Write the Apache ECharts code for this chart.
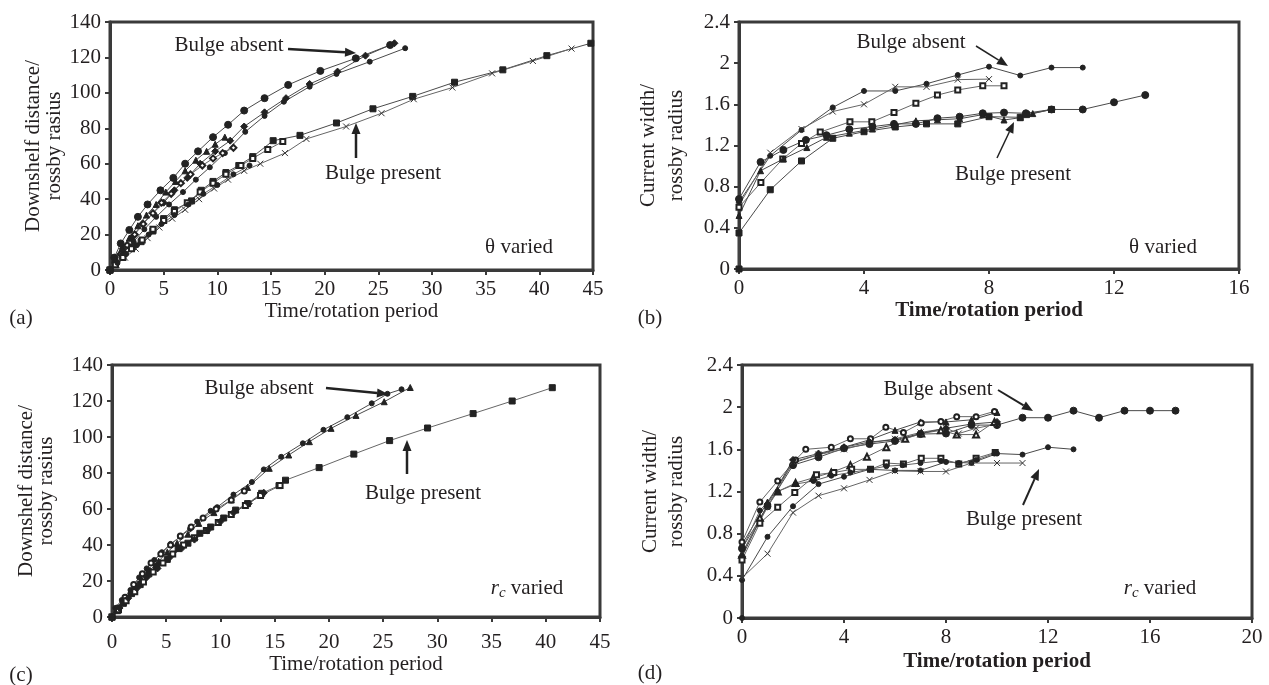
<!DOCTYPE html>
<html><head><meta charset="utf-8">
<script src="https://cdn.jsdelivr.net/npm/echarts@6/dist/echarts.min.js"></script>
<style>html,body{margin:0;padding:0;background:#fff}#c{width:1269px;height:685px}</style>
</head><body><div id="c"></div>
<script>
// ---------- Axis ticks ----------
const distTicks = [0, 20, 40, 60, 80, 100, 120, 140];
const widthTicks = [0, 0.4, 0.8, 1.2, 1.6, 2, 2.4];
const timeTicksAC = [0, 5, 10, 15, 20, 25, 30, 35, 40, 45];
const timeTicksB = [0, 4, 8, 12, 16];
const timeTicksD = [0, 4, 8, 12, 16, 20];

// ---------- Panel (a): theta varied, downshelf distance ----------
const aAbs1 = [[0,0],[0.4,7],[1,15],[1.8,22.6],[2.6,30],[3.5,37],[4.7,45],[5.9,52],[7,60],[8.2,67],[9.6,75],[11,82],[12.5,90],[14.4,97],[16.6,104.5],[19.6,112.4],[22.9,119.5],[26.1,127]];
const aAbs2 = [[0,0],[0.5,5],[1.2,12],[2,18],[3,26],[4,32],[5,38],[6,45],[7.2,52],[8.4,60],[9.8,67],[11.2,73],[12.5,81],[14.4,89],[16.4,97],[18.6,105],[21.2,112],[23.8,121],[26.5,128]];
const aAbs3 = [[0,0],[0.6,4],[1.3,10],[2.2,16],[3.2,23],[4.3,30],[5.5,37],[6.8,44],[8,51],[9.3,58],[10.7,66],[12.6,78],[14.4,87],[16.2,95],[18.6,103.5],[21.1,110.7],[24.2,117.6],[27.5,125.2]];
const aAbs4 = [[0,0],[0.5,4],[1,9],[1.6,14],[2.3,20],[3.1,26],[4,32],[4.8,38],[5.7,43],[6.6,49],[7.5,54],[8.6,59],[9.6,63],[10.5,66],[11.5,69]];
const aAbs5 = [[0,0],[0.5,6],[1.1,12],[1.8,18],[2.6,25],[3.4,31],[4.3,37],[5.2,44],[6.1,50],[7,56],[8,62],[9,67],[9.8,71],[10.7,75]];
const aPre1 = [[0,0],[0.5,3],[1.2,8],[2.1,13],[2.9,16],[4,22],[5,29],[6,34],[7.6,39],[8.5,45],[9.6,50],[10.8,55],[12,59],[13.3,64],[15.2,73],[17.7,76],[21.1,83],[24.5,91],[28.2,98],[32.1,106],[36.6,113],[40.7,121],[44.8,128]];
const aPre2 = [[0,0],[0.6,3],[1.4,7],[2.4,12],[3.5,18],[4.6,24],[5.8,29],[7,34],[8.3,40],[9.7,46],[11,51],[12.5,56],[14,60],[16.3,66],[18.3,74],[22,81],[25.3,88.5],[28.3,96.4],[31.9,103],[35.6,111],[39.4,118],[43,125]];
const aPre3 = [[0,0],[0.5,3],[1.2,7],[2,12],[3,17],[4,23],[5,28],[6,33],[7.2,38],[8.4,44],[9.6,49],[10.8,54],[12.2,59],[13.3,63],[14.7,68],[16.1,72.5]];
const aPre4 = [[0,0],[0.7,4],[1.5,9],[2.5,14],[3.6,20],[4.8,26],[6,31],[7.3,37],[8.7,43],[10,48],[11.5,54],[13,59]];

// ---------- Panel (b): theta varied, current width ----------
const bAbs1 = [[0,0.65],[1,1.1],[2,1.35],[3,1.57],[4,1.73],[5,1.73],[6,1.8],[7,1.885],[8,1.966],[9,1.88],[10,1.957],[11,1.957]];
const bAbs2 = [[0,0.62],[1,1.13],[2,1.36],[3,1.53],[4,1.6],[5,1.77],[6,1.77],[7,1.84],[8,1.845]];
const bAbs3 = [[0,0.6],[0.7,0.84],[1.4,1.07],[2,1.22],[2.6,1.33],[3.55,1.43],[4.25,1.43],[4.96,1.52],[5.66,1.61],[6.35,1.69],[7,1.74],[7.8,1.78],[8.48,1.78]];
const bPre1 = [[0,0.68],[0.69,1.04],[1.42,1.157],[2.14,1.254],[2.8,1.3],[3.53,1.357],[4.27,1.383],[4.96,1.41],[5.66,1.41],[6.35,1.465],[7.06,1.48],[7.8,1.513],[8.48,1.52],[9.18,1.513],[10,1.55],[11,1.55],[12,1.62],[13,1.69]];
const bPre2 = [[0,0],[0,0.35],[1,0.77],[2,1.05],[3,1.27],[4,1.334],[5,1.38],[6,1.41],[7,1.41],[8,1.48],[9,1.474],[9.2,1.5],[10,1.55]];
const bPre3 = [[0,0.52],[0.69,0.955],[1.42,1.07],[2.17,1.18],[2.8,1.28],[3.53,1.32],[4.27,1.36],[4.96,1.4],[5.66,1.44],[6.35,1.45],[7.06,1.46],[7.8,1.5],[8.48,1.448],[9,1.47],[9.4,1.51],[10,1.55]];

// ---------- Panel (c): r_c varied, downshelf distance ----------
const cAbs1 = [[0,0],[0.3,5],[0.9,9.4],[1.7,15],[2.5,22],[3.2,27],[3.9,31.7],[4.6,36],[5.4,40.6],[6.3,44.6],[7.2,49],[7.85,53],[9.1,59],[9.7,61],[11.2,68],[12.9,75],[14,82],[15.6,89],[17.6,96.5],[19.5,104],[21.7,111],[23.95,118.7],[25.4,124],[26.7,126.5]];
const cAbs2 = [[0,0],[0.4,4],[1.1,9],[1.9,15],[2.7,21],[3.5,26],[4.3,31],[5.1,36],[6,41],[7,46],[8,52],[9.4,58],[11,65],[12.5,72],[14.5,82.6],[16.3,90],[18.2,97.4],[20.2,104.8],[22.5,112],[25.1,119.6],[27.5,127.5]];
const cAbs3 = [[0,0],[0.5,5],[1.2,11],[2,18],[2.8,24],[3.6,30],[4.5,35],[5.4,40],[6.3,45],[7.3,50],[8.4,55],[9.6,60],[11,65],[12.2,70]];
const cPre1 = [[0,0],[0.5,3.5],[1.05,7.6],[1.8,13],[2.6,18],[3.4,24],[4.1,28],[5.1,32],[6.1,38],[7,41],[8.1,46.5],[9.1,50],[10.3,55],[11.4,59.4],[12.5,63],[13.8,68.7],[15.4,73],[16,76],[19.1,83],[22.3,90.5],[25.6,98],[29.1,105],[33.3,113],[36.9,120],[40.6,127.4]];
const cPre2 = [[0,0],[0.6,4],[1.3,9],[2.1,14],[2.9,19.5],[3.8,25],[4.7,30],[5.6,35],[6.6,40],[7.6,44],[8.7,48],[9.8,52.5],[11,57],[12.3,62],[13.7,67.5],[15.5,73]];
const cPre3 = [[0,0],[0.7,5],[1.5,10.5],[2.3,16],[3.2,22],[4.2,27],[5.3,33],[6.4,38],[7.6,43],[8.8,48],[10,53],[11.2,58],[12.6,63],[14,69]];

// ---------- Panel (d): r_c varied, current width ----------
const dAbs1 = [[0,0.66],[1,1.06],[2,1.45],[3,1.525],[4,1.61],[5,1.65],[6,1.68],[7,1.745],[8,1.75],[9,1.83],[10,1.83],[11,1.9],[12,1.9],[13,1.967],[14,1.9],[15,1.967],[16,1.967],[17,1.967]];
const dAbs2 = [[0,0.7],[1,1.1],[2,1.47],[3,1.55],[4,1.62],[5,1.69],[6,1.78],[7,1.86],[8,1.86],[9,1.88],[10,1.95]];
const dAbs3 = [[0,0.72],[0.7,1.1],[1.4,1.3],[2.1,1.5],[2.5,1.6],[3.5,1.62],[4.25,1.7],[5.04,1.7],[5.64,1.81],[6.33,1.76],[7.03,1.85],[7.8,1.865],[8.42,1.91],[9.18,1.91],[9.9,1.96]];
const dAbs4 = [[0,0.6],[0.7,0.95],[1.4,1.2],[2.1,1.28],[2.8,1.33],[3.5,1.38],[4.25,1.45],[4.9,1.53],[5.66,1.62],[6.4,1.7],[7.03,1.75],[7.8,1.78],[8.42,1.74],[9.18,1.74],[9.9,1.86]];
const dAbs5 = [[0,0.62],[1,1.05],[2,1.48],[3,1.55],[4,1.6],[5,1.66],[6,1.7],[7,1.76],[8,1.8],[8.5,1.75],[9.18,1.8],[10,1.84]];
const dAbs6 = [[0,0.58],[1,1.08],[2,1.5],[3,1.56],[4,1.62],[5,1.67],[6,1.69],[7,1.75],[8,1.8],[9,1.84],[10,1.86]];
const dPre1 = [[0,0.55],[0.7,0.9],[1.4,1.05],[2.07,1.19],[2.92,1.36],[3.6,1.38],[4.3,1.41],[5.04,1.41],[5.66,1.47],[6.33,1.46],[7.03,1.515],[7.8,1.515],[8.5,1.46],[9.18,1.515],[9.93,1.57]];
const dPre2 = [[0,0],[0,0.36],[1,0.77],[2,1.06],[3,1.27],[4,1.34],[5,1.41],[6,1.4],[7,1.4],[8,1.48],[9,1.47],[10,1.56],[11,1.55],[12,1.62],[13,1.6]];
const dPre3 = [[0,0.38],[1,0.61],[2,1.0],[3,1.16],[4,1.23],[5,1.31],[6,1.395],[7,1.39],[8,1.39],[9,1.47],[10,1.47],[11,1.47]];
const dPre4 = [[0,0.65],[0.7,1.02],[1.4,1.2],[2.1,1.27],[2.8,1.3],[3.5,1.35],[4.25,1.38],[5,1.41],[5.66,1.44],[6.3,1.45],[7,1.47],[7.8,1.49],[8.5,1.47],[9.2,1.5],[9.9,1.56]];

// ---------- Text ----------
const distTitle = 'Downshelf distance/\nrossby rasius';
const widthTitle = 'Current width/\nrossby radius';
const timeTitle = 'Time/rotation period';
const absentText = 'Bulge absent';
const presentText = 'Bulge present';

// ---------- Build ----------
const FONT = '"Liberation Serif", "DejaVu Serif", serif';
const INK = '#231f20';
const CROSS = 'path://M0,0L10,10M10,0L0,10';

const grids = [
  {left:110, top:22, width:483, height:248},
  {left:739, top:22, width:500, height:247},
  {left:112, top:365, width:488, height:252},
  {left:742, top:365, width:510, height:253}
];

function fmt(v){ return String(+(+v).toFixed(1)); }

function xAx(i, ticks, bold, gap, margin){
  return {type:'value', gridIndex:i, min:ticks[0], max:ticks[ticks.length-1], interval:ticks[1]-ticks[0],
    name:timeTitle, nameLocation:'middle', nameGap:gap,
    nameTextStyle:{fontFamily:FONT, fontSize:21, color:INK, fontWeight: bold ? 'bold':'normal'},
    axisLine:{show:true, onZero:false, lineStyle:{color:'#3a3a3a', width:3}},
    axisTick:{show:true, length:5, lineStyle:{color:'#3a3a3a', width:2}},
    axisLabel:{fontFamily:FONT, fontSize:21, color:INK, margin:margin, formatter:fmt},
    splitLine:{show:false}};
}
function yAx(i, ticks, title, gap, lh){
  return {type:'value', gridIndex:i, min:ticks[0], max:ticks[ticks.length-1], interval:+(ticks[1]-ticks[0]).toFixed(1),
    name:title, nameLocation:'middle', nameGap:gap, nameRotate:90,
    nameTextStyle:{fontFamily:FONT, fontSize:21, color:INK, lineHeight:lh},
    axisLine:{show:true, onZero:false, lineStyle:{color:'#3a3a3a', width:3}},
    axisTick:{show:true, length:5, lineStyle:{color:'#3a3a3a', width:2}},
    axisLabel:{fontFamily:FONT, fontSize:21, color:INK, margin:9, formatter:fmt},
    splitLine:{show:false}};
}

const SYM = {
  dot:{symbol:'circle', size:7},
  sdot:{symbol:'circle', size:5},
  dia:{symbol:'diamond', size:7},
  tri:{symbol:'triangle', size:6},
  sq:{symbol:'rect', size:6},
  osq:{symbol:'emptyRect', size:5},
  ocir:{symbol:'emptyCircle', size:5},
  odia:{symbol:'emptyDiamond', size:6},
  otri:{symbol:'emptyTriangle', size:6},
  x:{symbol:CROSS, size:6}
};

function mk(gi, data, key, lineColor){
  const s = SYM[key];
  const isCross = key === 'x';
  return {type:'line', xAxisIndex:gi, yAxisIndex:gi, data:data, symbol:s.symbol, symbolSize:s.size,
    showSymbol:true, animation:false, silent:true,
    lineStyle:{color:lineColor || '#4a4a4a', width:1},
    itemStyle: isCross ? {color:'rgba(0,0,0,0)', borderColor:'#333', borderWidth:1}
                       : {color:'#222', borderColor:'#222', borderWidth:1}};
}

const series = [
  mk(0,aAbs1,'dot'), mk(0,aAbs2,'dia'), mk(0,aAbs3,'sdot'), mk(0,aAbs4,'odia','#666'), mk(0,aAbs5,'tri'),
  mk(0,aPre1,'sq'), mk(0,aPre2,'x','#666'), mk(0,aPre3,'osq','#666'), mk(0,aPre4,'sdot','#666'),
  mk(1,bAbs1,'sdot'), mk(1,bAbs2,'x','#666'), mk(1,bAbs3,'osq','#666'),
  mk(1,bPre1,'dot'), mk(1,bPre2,'sq'), mk(1,bPre3,'tri'),
  mk(2,cAbs1,'sdot'), mk(2,cAbs2,'tri'), mk(2,cAbs3,'ocir','#666'),
  mk(2,cPre1,'sq','#666'), mk(2,cPre2,'osq','#666'), mk(2,cPre3,'dia'),
  mk(3,dAbs1,'dot'), mk(3,dAbs2,'tri'), mk(3,dAbs3,'ocir','#666'), mk(3,dAbs4,'otri','#666'), mk(3,dAbs5,'x','#666'), mk(3,dAbs6,'dia'),
  mk(3,dPre1,'osq','#666'), mk(3,dPre2,'sdot'), mk(3,dPre3,'x','#666'), mk(3,dPre4,'sdot','#666')
];

function txt(x, y, s, extra){
  return Object.assign({type:'text', x:x, y:y, z:50,
    style:{text:s, fontFamily:FONT, fontSize:21, fill:INK, textAlign:'center', textVerticalAlign:'middle'}}, extra||{});
}
function arrow(x1,y1,x2,y2,w){
  const a = Math.atan2(y2-y1, x2-x1), L = 11, W = 4.5;
  const bx = x2 - L*Math.cos(a), by = y2 - L*Math.sin(a);
  const s = Math.sin(a), c = Math.cos(a);
  return [
    {type:'line', z:50, shape:{x1:x1,y1:y1,x2:bx,y2:by}, style:{stroke:'#222', lineWidth:w}},
    {type:'polygon', z:50, shape:{points:[[x2,y2],[bx+W*s,by-W*c],[bx-W*s,by+W*c]]}, style:{fill:'#222'}}
  ];
}
function rcText(x, y){
  return {type:'text', x:x, y:y, z:50, style:{
    text:'{r|r}{c|c}{n| varied}', textAlign:'center', textVerticalAlign:'middle', fill:INK,
    rich:{ r:{fontFamily:FONT, fontSize:21, fontStyle:'italic', fill:INK},
           c:{fontFamily:FONT, fontSize:15, fontStyle:'italic', fill:INK, padding:[10,0,0,0]},
           n:{fontFamily:FONT, fontSize:21, fill:INK} }}};
}

const graphics = [].concat(
  [txt(229,45,absentText)], arrow(288,49,356,53,2.5),
  [txt(383,173,presentText)], arrow(356,158,356,123,2.5),
  [txt(519,247,'θ varied')],
  [txt(911,42,absentText)], arrow(976,46,1008,66,1.5),
  [txt(1013,174,presentText)], arrow(997,158,1014,122,1.5),
  [txt(1163,247,'θ varied')],
  [txt(259,388,absentText)], arrow(326,388,388,394,2.5),
  [txt(423,493,presentText)], arrow(407,474,407,440,2.5),
  [rcText(527,588)],
  [txt(938,389,absentText)], arrow(998,390,1033,411,2),
  [txt(1024,519,presentText)], arrow(1023,505,1039,469,2),
  [rcText(1160,588)],
  [txt(21,318,'(a)'), txt(650,318,'(b)'), txt(21,675,'(c)'), txt(650,673,'(d)')]
);

const chart = echarts.init(document.getElementById('c'), null, {renderer:'canvas'});
chart.setOption({
  backgroundColor:'#fff',
  animation:false,
  grid: grids.map(g => Object.assign({show:true, borderColor:'#3a3a3a', borderWidth:3, backgroundColor:'#fff'}, g)),
  xAxis:[xAx(0,timeTicksAC,false,22,9), xAx(1,timeTicksB,true,23,9), xAx(2,timeTicksAC,false,36,15), xAx(3,timeTicksD,true,33,9)],
  yAxis:[yAx(0,distTicks,distTitle,45,21), yAx(1,widthTicks,widthTitle,49,28), yAx(2,distTicks,distTitle,56,20), yAx(3,widthTicks,widthTitle,53,26)],
  series: series,
  graphic: graphics
});
</script></body></html>
